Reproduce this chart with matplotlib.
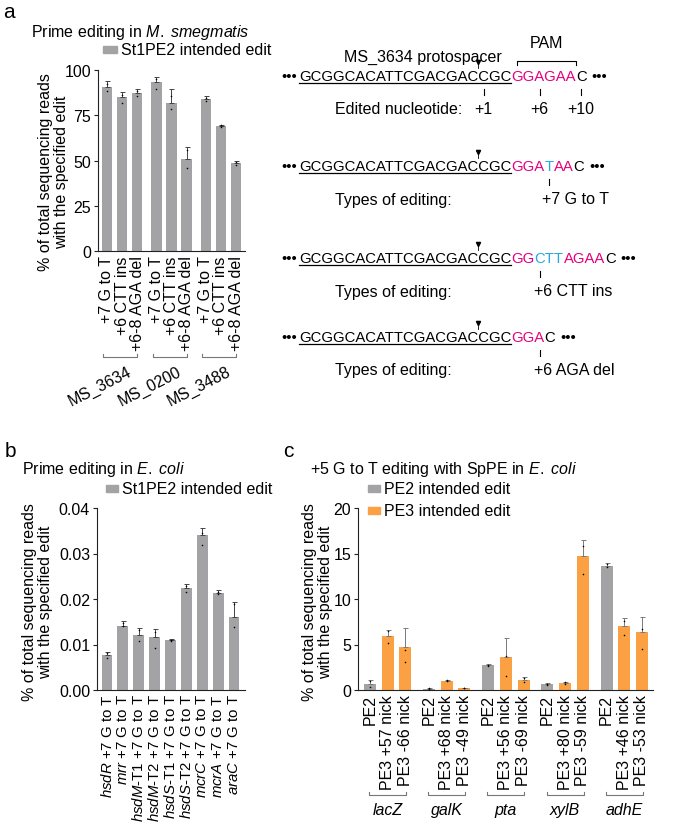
import matplotlib
matplotlib.use("Agg")
import matplotlib.pyplot as plt
import matplotlib.transforms as mtransforms
from matplotlib.font_manager import FontProperties
from matplotlib.lines import Line2D
from matplotlib.patches import Rectangle
import numpy as np

FONT = "Liberation Sans"
plt.rcParams["font.family"] = [FONT, "DejaVu Sans"]
plt.rcParams["mathtext.fontset"] = "custom"
plt.rcParams["mathtext.rm"] = FONT
plt.rcParams["mathtext.it"] = FONT + ":italic"
plt.rcParams["font.size"] = 11.5

GRAY = "#a3a3a6"
ORANGE = "#fba143"
COLORS = {"ref": "black", "pam": "#e4007f", "edit": "#29a8e0"}

# ---- panel a: M. smegmatis
a_loci = ["MS_3634", "MS_0200", "MS_3488"]
a_edits = ["+7 G to T", "+6 CTT ins", "+6-8 AGA del"]
a_mean = [90.6, 84.9, 87.1, 93.4, 82.0, 51.0, 83.8, 69.1, 48.4]
a_err = [3.5, 3.1, 2.2, 2.7, 7.3, 6.5, 1.8, 0.7, 1.3]
a_pts = [[88.5, 92.5], [81.5, 86.0], [85.8, 88.2], [89.7, 95.2], [78.3, 85.5],
         [46.0, 56.0], [83.0, 84.6], [68.6, 69.5], [47.6, 49.2]]

# sequence diagrams
proto = "GCGGCACATTCGACGACCGC"
seq_rows = [
    [("GGAGAA", "pam"), ("C", "ref")],
    [("GGA", "pam"), ("T", "edit"), ("AA", "pam"), ("C", "ref")],
    [("GG", "pam"), ("CTT", "edit"), ("AGAA", "pam"), ("C", "ref")],
    [("GGA", "pam"), ("C", "ref")],
]
row_titles = ["Edited nucleotide:", "Types of editing:", "Types of editing:", "Types of editing:"]
row_marks = [[(17, "+1"), (22, "+6"), (26, "+10")],
             [(23, "+7 G to T")],
             [(22, "+6 CTT ins")],
             [(22, "+6 AGA del")]]

# ---- panel b: E. coli St1PE2
b_genes = ["hsdR", "mrr", "hsdM", "hsdM", "hsdS", "hsdS", "mcrC", "mcrA", "araC"]
b_suffix = ["", "", "-T1", "-T2", "-T1", "-T2", "", "", ""]
b_mean = [0.0076, 0.0141, 0.0121, 0.0116, 0.0109, 0.0224, 0.0340, 0.0214, 0.0160]
b_err = [0.0008, 0.0010, 0.0016, 0.0019, 0.0003, 0.0010, 0.0017, 0.0006, 0.0034]
b_pts = [[0.0071, 0.0082], [0.0140, 0.0148], [0.0108, 0.0132], [0.0093, 0.0128],
         [0.0108, 0.0110], [0.0215, 0.0229], [0.0319, 0.0346], [0.0211, 0.0216],
         [0.0139, 0.0189]]

# ---- panel c: SpPE in E. coli
c_genes = ["lacZ", "galK", "pta", "xylB", "adhE"]
c_nicks = [["+57", "-66"], ["+68", "-49"], ["+56", "-69"], ["+80", "-59"], ["+46", "-53"]]
c_mean = [0.70, 5.96, 4.74, 0.15, 1.03, 0.22, 2.72, 3.60, 1.14,
          0.62, 0.77, 14.70, 13.68, 6.99, 6.32]
c_err = [0.40, 0.66, 2.02, 0.05, 0.11, 0.04, 0.15, 2.06, 0.33,
         0.12, 0.11, 1.77, 0.25, 0.88, 1.66]
c_pts = [[0.33, 0.95], [5.15, 6.47], [3.1, 4.4], [0.13, 0.17], [0.95, 1.1], [0.2, 0.25],
         [2.65, 2.8], [1.5, 3.7], [0.85, 1.3], [0.55, 0.7], [0.7, 0.85], [12.7, 15.8],
         [13.5, 13.8], [6.0, 7.6], [4.5, 6.7]]

W, H = 675, 829
fig = plt.figure(figsize=(W / 100, H / 100), dpi=100)
renderer = fig.canvas.get_renderer()


def fy(y):
    return 1 - y / H


def ptext(x, y, s, **kw):
    return fig.text(x / W, fy(y), s, **kw)


def pline(xs, ys, **kw):
    kw.setdefault("color", "black")
    kw.setdefault("lw", 0.8)
    fig.add_artist(Line2D([x / W for x in xs], [fy(y) for y in ys],
                          transform=fig.transFigure, **kw))


def style(ax):
    for s in ["top", "right"]:
        ax.spines[s].set_visible(False)
    for s in ["left", "bottom"]:
        ax.spines[s].set_linewidth(0.8)
        ax.spines[s].set_color("#222222")
    ax.tick_params(axis="y", length=3, width=0.8, pad=2, color="#222222")
    ax.tick_params(axis="x", length=0, pad=3)


def bars(ax, pos, mean, err, pts, colors, ecolor):
    ax.bar(pos, mean, width=0.68, color=colors, zorder=1)
    ax.errorbar(pos, mean, yerr=[np.zeros(len(err)), err], fmt="none", ecolor=ecolor,
                elinewidth=0.7, capsize=1.8, capthick=0.7, zorder=2)
    for p, vals in zip(pos, pts):
        ax.scatter([p] * len(vals), vals, s=1.3, color="black", linewidths=0, zorder=3)


def bracket(ax, x0, x1, y):
    tr = mtransforms.blended_transform_factory(ax.transData, fig.transFigure)
    ax.add_line(Line2D([x0, x0, x1, x1], [fy(y - 3), fy(y), fy(y), fy(y - 3)],
                       transform=tr, color="#777777", lw=0.8, clip_on=False))
    return tr


def legend_box(x, y, w, h, color, label):
    fig.add_artist(Rectangle((x / W, fy(y + h / 2)), w / W, h / H, color=color,
                             transform=fig.transFigure))
    ptext(x + w + 4, y, label, va="center", ha="left")


# ================= panel a =================
ax_a = fig.add_axes([98 / W, fy(252), 147 / W, 181 / H])
a_pos = [g * 3.27 + j for g in range(3) for j in range(3)]
bars(ax_a, a_pos, a_mean, a_err, a_pts, GRAY, "#444444")
style(ax_a)
ax_a.set_xlim(-0.59, 9.13)
ax_a.set_ylim(0, 100)
ax_a.set_yticks([0, 25, 50, 75, 100])
ax_a.set_xticks(a_pos)
ax_a.set_xticklabels(a_edits * 3, rotation=90)
ax_a.set_ylabel("% of total sequencing reads\nwith the specified edit", linespacing=1.05)
ax_a.yaxis.set_label_coords(-0.2, 0.44)
for g, locus in enumerate(a_loci):
    tr = bracket(ax_a, a_pos[3 * g] - 0.25, a_pos[3 * g + 2], 358)
    ax_a.text(a_pos[3 * g + 1] + 0.35, fy(364), locus, transform=tr, rotation=27,
              ha="right", va="top", rotation_mode="anchor")

ptext(3, 13, "a", fontsize=15, va="center")
ptext(31, 32, r"Prime editing in $\it{M.\ smegmatis}$", va="center")
legend_box(103, 50.5, 14, 7, GRAY, "St1PE2 intended edit")

# sequence diagrams
SEQ_X = 299
seq_prop = FontProperties(family=FONT, size=10.75)


def tw(s):
    if not s:
        return 0.0
    return renderer.get_text_width_height_descent(s, seq_prop, ismath=False)[0]


row_base = [81, 171, 263, 342]
for base, segs, title, marks in zip(row_base, seq_rows, row_titles, row_marks):
    full = proto + "".join(s for s, _ in segs)
    ptext(SEQ_X - 2, base, "\u2022\u2022\u2022", ha="right", va="baseline", fontproperties=seq_prop)
    x = SEQ_X
    for s, kind in [(proto, "ref")] + segs:
        ptext(x, base, s, ha="left", va="baseline", color=COLORS[kind], fontproperties=seq_prop)
        x += tw(s)
    ptext(x + 5, base, "\u2022\u2022\u2022", ha="left", va="baseline", fontproperties=seq_prop)
    pline([SEQ_X, SEQ_X + tw(proto)], [base + 3, base + 3], lw=0.9)
    cut = SEQ_X + tw(proto[:17])
    pline([cut, cut], [base - 17, base - 12], lw=0.6)
    pline([cut], [base - 18], marker="v", ms=3, linestyle="none")
    ptext(335, base + 29, title, va="center", ha="left")
    for idx, lab in marks:
        cx = SEQ_X + (tw(full[:idx]) + tw(full[:idx + 1])) / 2
        pline([cx, cx], [base + 9, base + 15])
        if len(marks) > 1:
            ptext(cx, base + 29, lab, va="center", ha="center")
        else:
            ptext(cx - 6, base + 29, lab, va="center", ha="left")
    if title.startswith("Edited"):
        p0 = SEQ_X + (tw(full[:20]) + tw(full[:21])) / 2
        p1 = SEQ_X + tw(full[:26])
        pline([p0, p0, p1, p1], [66, 62, 62, 66])
        ptext((p0 + p1) / 2, 43, "PAM", ha="center", va="center")
        ptext(SEQ_X + 124, 57, "MS_3634 protospacer", ha="center", va="center")

# ================= panel b =================
ax_b = fig.add_axes([97 / W, fy(691), 148 / W, 182 / H])
b_pos = np.arange(len(b_mean))
bars(ax_b, b_pos, b_mean, b_err, b_pts, GRAY, "#444444")
style(ax_b)
ax_b.set_xlim(-0.63, 8.69)
ax_b.set_ylim(0, 0.04)
ax_b.set_yticks([0, 0.01, 0.02, 0.03, 0.04])
ax_b.set_yticklabels(["0.00", "0.01", "0.02", "0.03", "0.04"])
ax_b.set_xticks(b_pos)
ax_b.set_xticklabels([rf"$\it{{{g}}}${s} +7 G to T" for g, s in zip(b_genes, b_suffix)],
                     rotation=90, fontsize=10.8)
ax_b.tick_params(axis="x", pad=2)
ax_b.set_ylabel("% of total sequencing reads\nwith the specified edit", linespacing=1.05)
ax_b.yaxis.set_label_coords(-0.3, 0.49)

ptext(5, 452, "b", fontsize=15, va="center")
ptext(22, 470, r"Prime editing in $\it{E.\ coli}$", va="center")
legend_box(106, 489.5, 12, 6.5, GRAY, "St1PE2 intended edit")

# ================= panel c =================
ax_c = fig.add_axes([358 / W, fy(691), 295 / W, 182 / H])
c_pos = [g * 3.35 + j for g in range(5) for j in range(3)]
c_colors = [GRAY if j == 0 else ORANGE for g in range(5) for j in range(3)]
bars(ax_c, c_pos, c_mean, c_err, c_pts, c_colors, "#7a7a7a")
style(ax_c)
ax_c.set_xlim(-0.68, 16.03)
ax_c.set_ylim(0, 20)
ax_c.set_yticks([0, 5, 10, 15, 20])
ax_c.set_xticks(c_pos)
c_labels = []
for nicks in c_nicks:
    c_labels += ["PE2"] + [f"PE3 {n} nick" for n in nicks]
ax_c.set_xticklabels(c_labels, rotation=90)
ax_c.set_ylabel("% of total sequencing reads\nwith the specified edit", linespacing=1.05)
ax_c.yaxis.set_label_coords(-0.085, 0.49)
for g, gene in enumerate(c_genes):
    tr = bracket(ax_c, c_pos[3 * g] - 0.05, c_pos[3 * g + 2] + 0.05, 796)
    ax_c.text(c_pos[3 * g + 1], fy(811), gene, transform=tr, style="italic",
              ha="center", va="center")

ptext(283, 452, "c", fontsize=15, va="center")
ptext(310, 470, r"+5 G to T editing with SpPE in $\it{E.\ coli}$", va="center")
legend_box(368, 489.5, 12, 6.5, GRAY, "PE2 intended edit")
legend_box(368, 511.5, 12, 6.5, ORANGE, "PE3 intended edit")

fig.savefig("out.png", dpi=100)
